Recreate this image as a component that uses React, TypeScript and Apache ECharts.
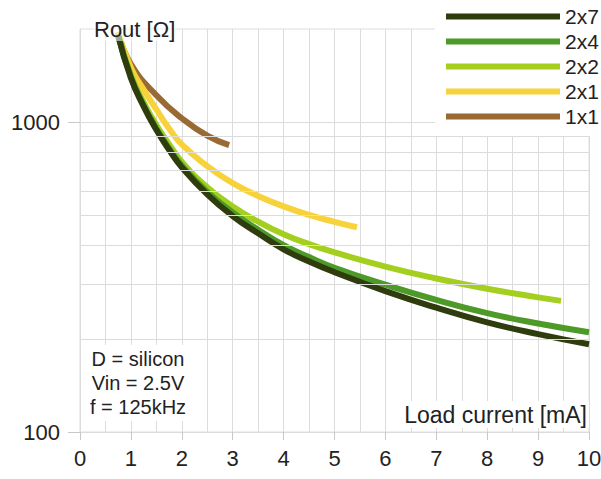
import React, { useEffect, useRef } from "react";
import * as echarts from "echarts";

const seriesNames = ["2x7", "2x4", "2x2", "2x1", "1x1"];
const seriesColors = ["#2f3c0e", "#4d9a28", "#a4cf1e", "#f8d23a", "#9a6a35"];

const x2x7 = [0.75, 1, 1.25, 1.5, 1.75, 2, 2.5, 3, 3.5, 4, 4.5, 5, 6, 7, 8, 9, 10];
const r2x7 = [1900, 1390, 1125, 945, 815, 715, 585, 498, 438, 389, 355, 328, 285, 252, 226, 207, 192];

const x2x4 = [0.75, 1, 1.25, 1.5, 1.75, 2, 2.5, 3, 3.5, 4, 4.5, 5, 6, 7, 8, 9, 10];
const r2x4 = [1910, 1400, 1135, 955, 825, 725, 596, 512, 450, 401, 367, 339, 299, 267, 242, 224, 210];

const x2x2 = [0.75, 1, 1.25, 1.5, 1.75, 2, 2.5, 3, 3.5, 4, 4.5, 5, 6, 7, 8, 9, 9.45];
const r2x2 = [1930, 1420, 1160, 980, 850, 745, 617, 535, 478, 435, 404, 380, 342, 313, 290, 272, 265];

const x2x1 = [0.75, 1, 1.25, 1.5, 1.75, 2, 2.5, 3, 3.5, 4, 4.5, 5, 5.44];
const r2x1 = [1950, 1500, 1275, 1100, 955, 848, 722, 636, 578, 535, 502, 477, 458];

const x1x1 = [0.75, 1, 1.5, 2, 2.5, 2.93];
const r1x1 = [1950, 1540, 1222, 1030, 905, 843];

const xTickLabels = [0, 1, 2, 3, 4, 5, 6, 7, 8, 9, 10];
const yTickLabels = [100, 1000];
const yMinorGrid = [200, 300, 400, 500, 600, 700, 800, 900];
const noteLines = ["D = silicon", "Vin = 2.5V", "f = 125kHz"];

const FONT = "Liberation Sans, Arial, sans-serif";

function pairs(xs: number[], ys: number[]) {
  return xs.map((x, i) => [x, ys[i]]);
}

export default function App() {
  const ref = useRef<HTMLDivElement>(null);
  useEffect(() => {
    if (!ref.current) return;
    const chart = echarts.init(ref.current, undefined, { renderer: "svg" });
    const dataSets = [
      pairs(x2x7, r2x7),
      pairs(x2x4, r2x4),
      pairs(x2x2, r2x2),
      pairs(x2x1, r2x1),
      pairs(x1x1, r1x1),
    ];
    const curveSeries: any[] = [];
    for (let i = seriesNames.length - 1; i >= 0; i--) {
      curveSeries.push({
        name: seriesNames[i],
        type: "line",
        data: dataSets[i],
        showSymbol: false,
        smooth: 0.5,
        z: 3,
        lineStyle: { color: seriesColors[i], width: 6 },
        itemStyle: { color: seriesColors[i] },
      });
    }
    chart.setOption({
      animation: false,
      textStyle: { fontFamily: FONT },
      grid: {
        left: 80,
        right: 12,
        top: 29,
        bottom: 47,
        outerBoundsMode: "none",
        containLabel: false,
        show: true,
        borderColor: "#dcdcdc",
        borderWidth: 1,
        backgroundColor: "transparent",
      },
      legend: {
        data: seriesNames,
        orient: "vertical",
        left: 435,
        top: 0,
        padding: [6, 20, 9, 11],
        backgroundColor: "#ffffff",
        icon: "rect",
        itemWidth: 114,
        itemHeight: 6,
        itemGap: 4,
        z: 10,
        textStyle: { fontSize: 21, lineHeight: 20, color: "#222", fontFamily: FONT },
      },
      xAxis: {
        type: "value",
        min: 0,
        max: 10,
        interval: 1,
        axisLine: { show: true, lineStyle: { color: "#dcdcdc" } },
        axisTick: { show: true, length: 8, lineStyle: { color: "#c8c8c8" } },
        axisLabel: {
          fontSize: 22,
          color: "#222",
          margin: 15,
          fontFamily: FONT,
          customValues: xTickLabels,
        },
        splitLine: { show: true, lineStyle: { color: "#dcdcdc" } },
        minorTick: { show: false, splitNumber: 2 },
        minorSplitLine: { show: true, lineStyle: { color: "#dcdcdc" } },
      },
      yAxis: {
        type: "log",
        logBase: 10,
        min: 100,
        max: 2000,
        axisLine: { show: true, lineStyle: { color: "#dcdcdc" } },
        axisTick: { show: true, length: 12, lineStyle: { color: "#c8c8c8" }, customValues: yTickLabels },
        axisLabel: {
          fontSize: 22,
          color: "#222",
          margin: 20,
          fontFamily: FONT,
          customValues: yTickLabels,
          formatter: (v: number) => String(v),
        },
        splitLine: { show: true, lineStyle: { color: "#dcdcdc" } },
      },
      graphic: [
        {
          type: "text",
          left: 93,
          top: 17,
          z: 20,
          style: {
            text: "Rout [Ω]",
            font: `22px ${FONT}`,
            fill: "#222",
            backgroundColor: "rgba(255,255,255,0.55)",
            padding: [1, 1],
          },
        },
        {
          type: "text",
          right: 12,
          top: 401,
          z: 20,
          style: {
            text: "Load current [mA]",
            font: `23px ${FONT}`,
            fill: "#222",
            backgroundColor: "#ffffff",
            padding: [2, 2],
          },
        },
        {
          type: "text",
          x: 138,
          y: 345,
          z: 20,
          style: {
            text: noteLines.join("\n"),
            font: `20px ${FONT}`,
            lineHeight: 24,
            align: "center",
            verticalAlign: "top",
            fill: "#222",
            backgroundColor: "#ffffff",
            padding: [2, 4],
          },
        },
      ],
      series: [
        {
          name: "grid",
          type: "line",
          data: [],
          z: 1,
          markLine: {
            silent: true,
            symbol: "none",
            label: { show: false },
            lineStyle: { color: "#dcdcdc", type: "solid", width: 1 },
            data: yMinorGrid.map((v) => ({ yAxis: v })),
          },
        },
        ...curveSeries,
      ],
    });
    return () => chart.dispose();
  }, []);
  return <div ref={ref} style={{ width: 601, height: 479, position: "absolute", left: 0, top: 0 }} />;
}
